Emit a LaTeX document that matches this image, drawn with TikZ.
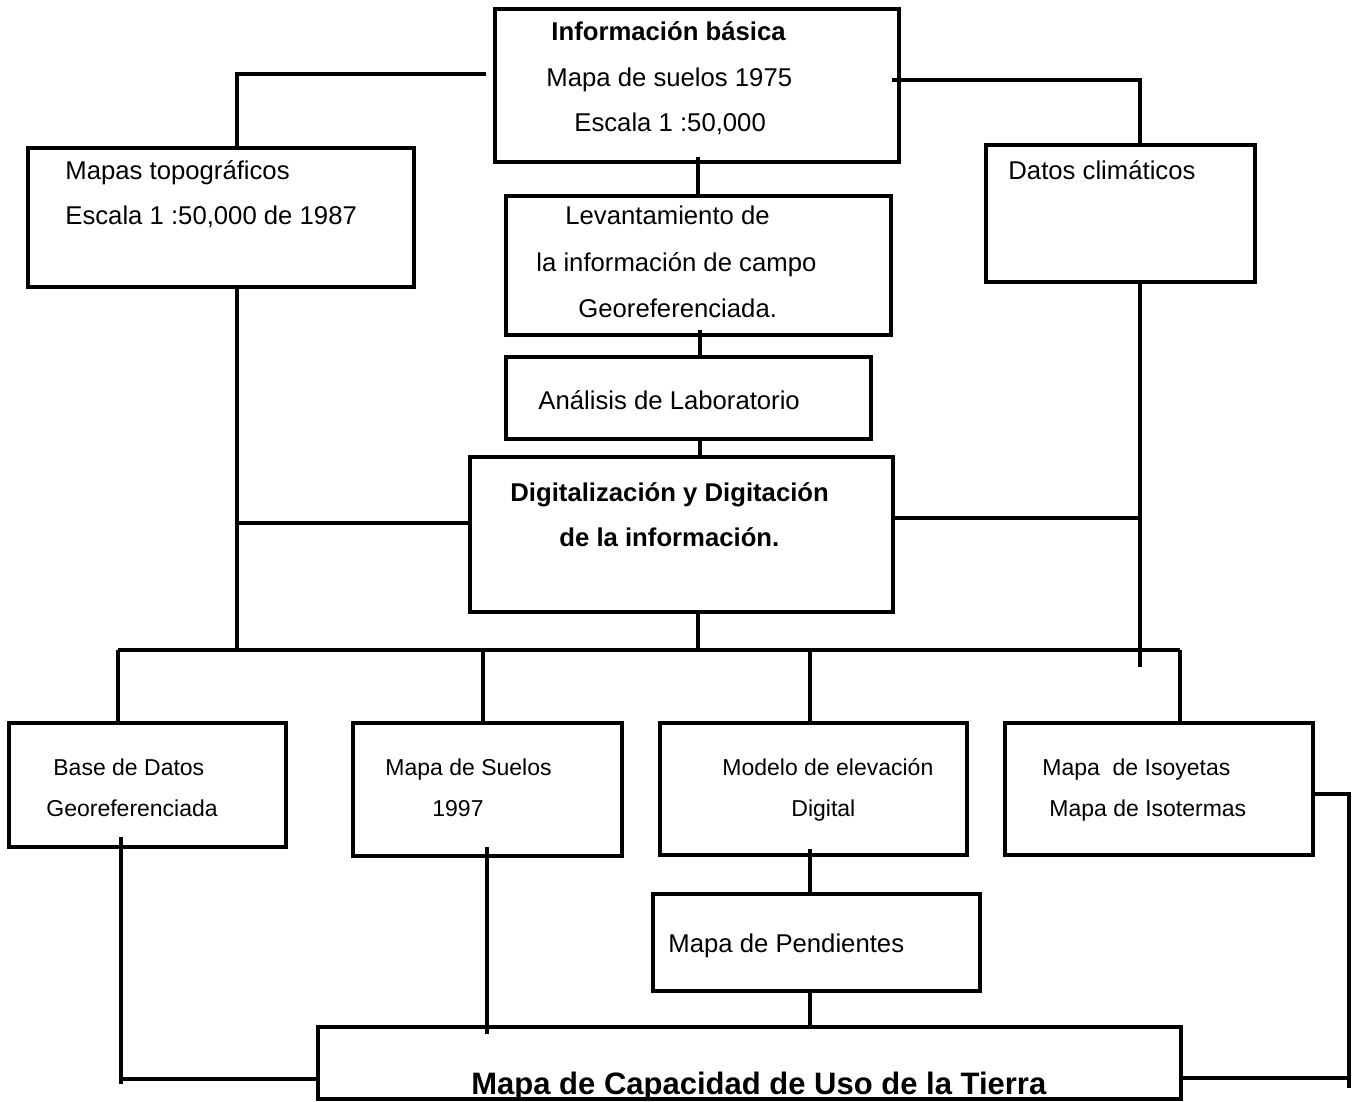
\documentclass[tikz,border=0pt]{standalone}
\usepackage{fontspec}
\setmainfont{Liberation Sans}
\usetikzlibrary{fit}
\begin{document}
\begin{tikzpicture}[x=0.5pt,y=-0.5pt,
  box/.style={draw, line width=1.75pt, inner sep=0pt},
  conn/.style={line width=1.6pt},
  tx/.style={anchor=base west, inner sep=0pt, font=\fontsize{12.85}{15}\selectfont},
  ts/.style={anchor=base west, inner sep=0pt, font=\fontsize{11.5}{14}\selectfont},
  tb/.style={anchor=base west, inner sep=0pt, font=\fontsize{12.85}{15}\selectfont\bfseries},
  tbig/.style={anchor=base west, inner sep=0pt, font=\fontsize{15.5}{18}\selectfont\bfseries}]
\useasboundingbox (0,0) rectangle (1360,1102);

% boxes
\node[box, fit={(495,9) (899,162)}] (info) {};
\node[box, fit={(28,148) (414,287)}] (topo) {};
\node[box, fit={(986,145) (1255,282)}] (clima) {};
\node[box, fit={(506,196) (891,335)}] (lev) {};
\node[box, fit={(506,357) (871,439)}] (anal) {};
\node[box, fit={(470,457) (893,612)}] (digit) {};
\node[box, fit={(9,723) (286,847)}] (base) {};
\node[box, fit={(353,723) (622,856)}] (suelos) {};
\node[box, fit={(660,723) (967,855)}] (modelo) {};
\node[box, fit={(1005,723) (1313,855)}] (iso) {};
\node[box, fit={(653,894) (980,991)}] (pend) {};
\node[box, fit={(318,1027) (1181,1099)}] (cap) {};

% texts
\node[tb] (t1) at (551,41) {Información básica};
\node[tx] (t2) at (546,87) {Mapa de suelos 1975};
\node[tx] (t3) at (574,132) {Escala 1 :50,000};
\node[tx] (t4) at (65,179) {Mapas topográficos};
\node[tx] (t5) at (65,224) {Escala 1 :50,000 de 1987};
\node[tx] (t6) at (1008,179) {Datos climáticos};
\node[tx] (t7) at (565,224) {Levantamiento de};
\node[tx] (t8) at (536,271) {la información de campo};
\node[tx] (t9) at (578,317) {Georeferenciada.};
\node[tx] (t10) at (538,409) {Análisis de Laboratorio};
\node[tb] (t11) at (510,501) {Digitalización y Digitación};
\node[tb] (t12) at (559,546) {de la información.};
\node[ts] (t13) at (53,775) {Base de Datos};
\node[ts] (t14) at (46,816) {Georeferenciada};
\node[ts] (t15) at (385,775) {Mapa de Suelos};
\node[ts] (t16) at (432,816) {1997};
\node[ts] (t17) at (722,775) {Modelo de elevación};
\node[ts] (t18) at (791,816) {Digital};
\node[ts] (t19) at (1042,775) {Mapa\ \ de Isoyetas};
\node[ts] (t20) at (1049,816) {Mapa de Isotermas};
\node[tx] (t21) at (668,952) {Mapa de Pendientes};
\node[tbig] (t22) at (471,1094) {Mapa de Capacidad de Uso de la Tierra};

% junction coordinates
\coordinate (jL) at (237,523);
\coordinate (jR) at (1140,518);
\coordinate (b0) at (118,650);
\coordinate (b1) at (483,650);
\coordinate (b2) at (698,650);
\coordinate (b3) at (810,650);
\coordinate (b4) at (1180,650);
\coordinate (bT) at (237,650);
\coordinate (cEnd) at (1140,667);
\coordinate (lEnd) at (121,1084);
\coordinate (rTop) at (1349,794);
\coordinate (rEnd) at (1349,1088);

% connectors top
\draw[conn, shorten <=3.5pt] (info.west |- 0,74) -| (topo.north -| 237,0);
\draw[conn, shorten <=-4.5pt] (info.east |- 0,80) -| (clima.north -| 1140,0);
\draw[conn, shorten <=-3.5pt] (info.south -| 698,0) -- (lev.north -| 698,0);
\draw[conn, shorten <=-3.5pt] (lev.south -| 700,0) -- (anal.north -| 700,0);
\draw[conn] (anal.south -| 700,0) -- (digit.north -| 700,0);

% side trunks
\draw[conn] (topo.south -| 237,0) -- (bT);
\draw[conn] (digit.west |- jL) -- (jL);
\draw[conn] (clima.south -| 1140,0) -- (cEnd);
\draw[conn] (digit.east |- jR) -- (jR);
\draw[conn] (digit.south -| b2) -- (b2);

% bus and drops
\draw[conn] (b0) -- (b4);
\draw[conn] (b0) -- (base.north -| b0);
\draw[conn] (b1) -- (suelos.north -| b1);
\draw[conn] (b3) -- (modelo.north -| b3);
\draw[conn] (b4) -- (iso.north -| b4);

% lower connectors
\draw[conn, shorten <=-6pt] (base.south -| lEnd) -- (lEnd);
\draw[conn] (lEnd |- 0,1079) -- (cap.west |- 0,1079);
\draw[conn, shorten <=-5.5pt, shorten >=-4.5pt] (suelos.south -| 487,0) -- (cap.north -| 487,0);
\draw[conn, shorten <=-4pt] (modelo.south -| 810,0) -- (pend.north -| 810,0);
\draw[conn, shorten <=-1.5pt] (pend.south -| 810,0) -- (cap.north -| 810,0);
\draw[conn] (iso.east |- rTop) -- (rTop) -- (rEnd);
\draw[conn] (cap.east |- 0,1078) -- (rEnd |- 0,1078);
\end{tikzpicture}
\end{document}
